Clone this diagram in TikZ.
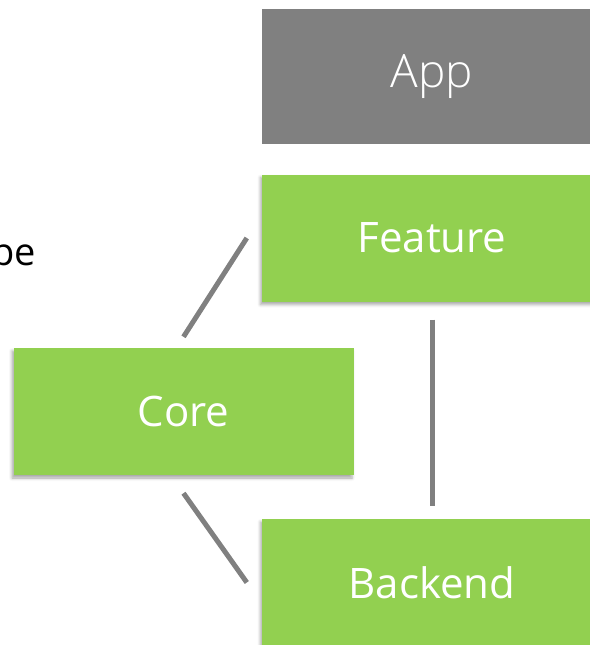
\documentclass[tikz,border=0pt]{standalone}
\usepackage{fontspec}
\setmainfont{Open Sans}
\newfontfamily\thinfont{Open Sans Light}
\usetikzlibrary{shadows.blur}
\definecolor{boxgreen}{HTML}{92D050}
\definecolor{appgray}{HTML}{808080}
\definecolor{linkgray}{HTML}{808080}
\begin{document}
\begin{tikzpicture}[x=1pt,y=-1pt,
  layer/.style={rectangle, minimum width=340pt, minimum height=127pt,
    inner sep=0pt, text=white, font=\fontsize{42}{46}\selectfont},
  greenbox/.style={layer, fill=boxgreen,
    blur shadow={shadow xshift=-1.5pt, shadow yshift=-3pt,
      shadow blur radius=3pt, shadow opacity=35}},
  link/.style={draw=linkgray, line width=5pt}]
\useasboundingbox (0,0) rectangle (589,645);
% layers
\node[layer, fill=appgray, minimum height=135pt,
  font=\thinfont\fontsize{46}{50}\selectfont] (app) at (432,76.5) {App};
\node[greenbox] (feature) at (432,238) {Feature};
\node[greenbox] (core) at (183.5,411.5) {Core};
\node[greenbox] (backend) at (432,582.5) {Backend};
% label partly outside the page
\node[anchor=base east, inner sep=0pt, font=\fontsize{38}{42}\selectfont]
  (scope) at (36,265) {pe};
% dependencies
\draw[link] ([yshift=11pt]core.north) -- ([xshift=-15pt]feature.west);
\draw[link] ([yshift=-18pt]core.south) -- ([xshift=-15pt]backend.west);
\draw[link] ([yshift=-18pt]feature.south) -- ([yshift=13pt]backend.north);
\end{tikzpicture}
\end{document}
